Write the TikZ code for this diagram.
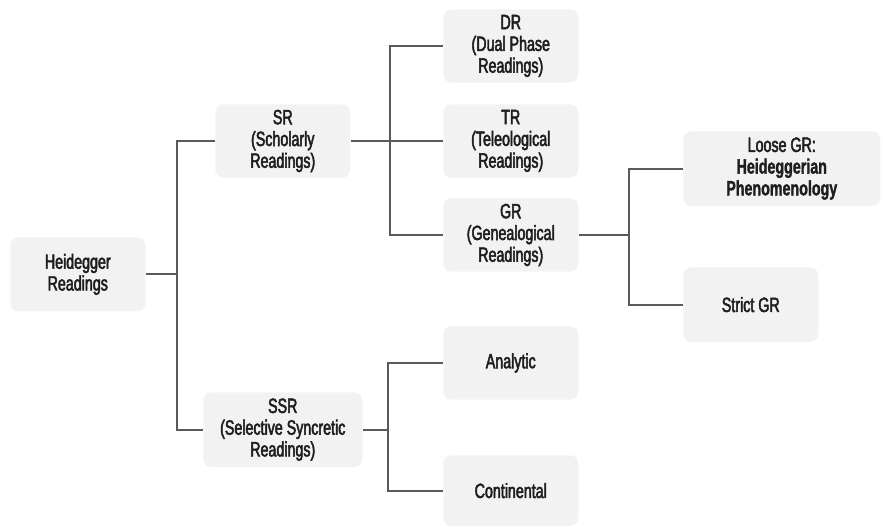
\documentclass[tikz,border=0pt]{standalone}
\usepackage{fontspec}
\setmainfont{Liberation Sans}[FakeStretch=0.69,UprightFeatures={FakeBold=2.4},BoldFeatures={FakeBold=1.5}]
\definecolor{boxfill}{HTML}{F2F2F2}
\definecolor{linec}{HTML}{5A5A5A}
\definecolor{txt}{HTML}{1E1E1E}
\begin{document}
\begin{tikzpicture}[x=0.75pt,y=-0.75pt,
  bx/.style={fill=boxfill,draw=none,rounded corners=6pt,anchor=north west,
    align=center,inner sep=0pt,text=txt,
    font=\fontsize{15.5}{16.3}\selectfont},
  conn/.style={draw=linec,line width=1.5pt}]
\useasboundingbox (0,0) rectangle (883,527);
\node[bx,minimum width=101.25pt,minimum height=55.5pt] (hr) at (10,237) {Heidegger\\Readings};
\node[bx,minimum width=101.25pt,minimum height=55pt] (sr) at (215,104) {SR\\(Scholarly\\Readings)};
\node[bx,minimum width=119.25pt,minimum height=56pt] (ssr) at (203,392) {SSR\\(Selective Syncretic\\Readings)};
\node[bx,minimum width=101.25pt,minimum height=55pt] (dr) at (443,9) {DR\\(Dual Phase\\Readings)};
\node[bx,minimum width=101.25pt,minimum height=55pt] (tr) at (443,104) {TR\\(Teleological\\Readings)};
\node[bx,minimum width=101.25pt,minimum height=55pt] (gr) at (443,198) {GR\\(Genealogical\\Readings)};
\node[bx,minimum width=147.75pt,minimum height=56pt] (lg) at (683,131) {Loose GR:\\\textbf{Heideggerian}\\\textbf{Phenomenology}};
\node[bx,minimum width=101.25pt,minimum height=56pt] (sg) at (683,267) {Strict GR};
\node[bx,minimum width=101.25pt,minimum height=55pt] (an) at (443,326) {Analytic};
\node[bx,minimum width=101.25pt,minimum height=53pt] (co) at (443,455) {Continental};
\path (hr.east) ++(31,0) coordinate (j1);
\path (sr.east) ++(39,0) coordinate (j2);
\path (gr.east) ++(50,0) coordinate (j3);
\path (ssr.east) ++(25,0) coordinate (j4);
\draw[conn] (hr.east) -- (j1);
\draw[conn] (sr.west) -| (j1) |- (ssr.west);
\draw[conn] (sr.east) -- (j2);
\draw[conn] (dr.west) -| (j2) |- (gr.west);
\draw[conn] (tr.west) -- (j2);
\draw[conn] (gr.east) -- (j3);
\draw[conn] (lg.west) -| (j3) |- (sg.west);
\draw[conn] (ssr.east) -- (j4);
\draw[conn] (an.west) -| (j4) |- (co.west);
\end{tikzpicture}
\end{document}
